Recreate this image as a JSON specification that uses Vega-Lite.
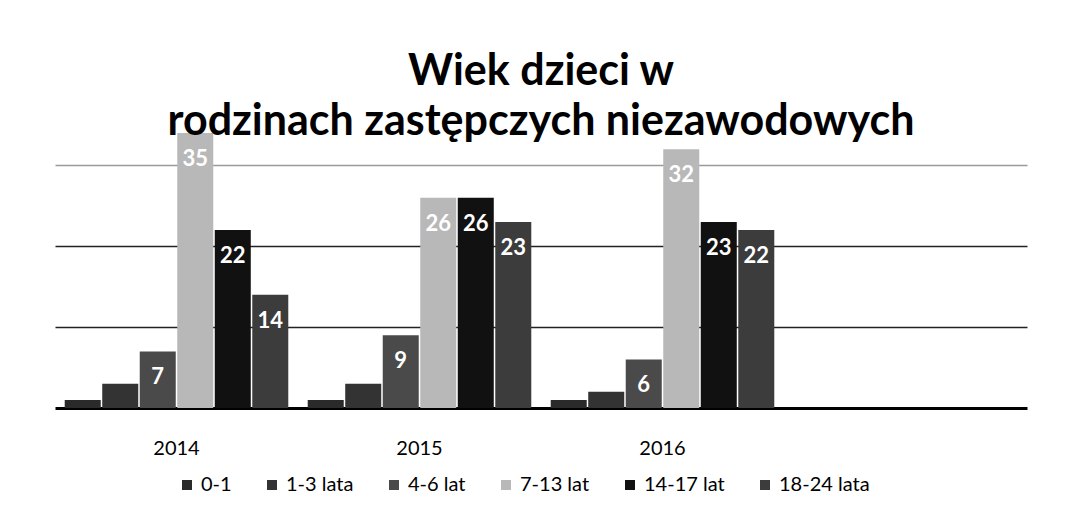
{
  "$schema": "https://vega.github.io/schema/vega-lite/v6.json",
  "width": 972,
  "height": 275,
  "autosize": "none",
  "padding": {"left": 55, "top": 133, "right": 39, "bottom": 118},
  "background": "white",
  "config": {"view": {"stroke": null}},
  "title": {
    "text": ["Wiek dzieci w", "rodzinach zastępczych  niezawodowych"],
    "font": "Lato",
    "fontSize": 43,
    "fontWeight": "bold",
    "color": "black",
    "anchor": "middle",
    "lineHeight": 50,
    "offset": -11
  },
  "data": {
    "values": [
      {"year": "2014", "group": "0-1", "value": 1},
      {"year": "2014", "group": "1-3 lata", "value": 3},
      {"year": "2014", "group": "4-6 lat", "value": 7},
      {"year": "2014", "group": "7-13 lat", "value": 35},
      {"year": "2014", "group": "14-17 lat", "value": 22},
      {"year": "2014", "group": "18-24 lata", "value": 14},
      {"year": "2015", "group": "0-1", "value": 1},
      {"year": "2015", "group": "1-3 lata", "value": 3},
      {"year": "2015", "group": "4-6 lat", "value": 9},
      {"year": "2015", "group": "7-13 lat", "value": 26},
      {"year": "2015", "group": "14-17 lat", "value": 26},
      {"year": "2015", "group": "18-24 lata", "value": 23},
      {"year": "2016", "group": "0-1", "value": 1},
      {"year": "2016", "group": "1-3 lata", "value": 2},
      {"year": "2016", "group": "4-6 lat", "value": 6},
      {"year": "2016", "group": "7-13 lat", "value": 32},
      {"year": "2016", "group": "14-17 lat", "value": 23},
      {"year": "2016", "group": "18-24 lata", "value": 22}
    ]
  },
  "encoding": {
    "x": {
      "field": "year",
      "type": "nominal",
      "scale": {"domain": ["2014", "2015", "2016", " "], "paddingInner": 0.08, "paddingOuter": 0.04},
      "axis": {
        "title": null,
        "labelAngle": 0,
        "labelFont": "Lato",
        "labelFontSize": 20,
        "labelColor": "black",
        "labelPadding": 30,
        "ticks": false,
        "domainColor": "black",
        "domainWidth": 3
      }
    },
    "xOffset": {
      "field": "group",
      "type": "nominal",
      "sort": ["0-1", "1-3 lata", "4-6 lat", "7-13 lat", "14-17 lat", "18-24 lata"],
      "scale": {"paddingInner": 0.04}
    },
    "y": {
      "field": "value",
      "type": "quantitative",
      "scale": {"domain": [0, 34], "clamp": true},
      "axis": {
        "title": null,
        "labels": false,
        "ticks": false,
        "domain": false,
        "grid": true,
        "values": [10, 20, 30],
        "gridColor": {"condition": {"test": "datum.value === 30", "value": "#9a9a9a"}, "value": "#222222"},
        "gridWidth": 1.5
      }
    }
  },
  "layer": [
    {
      "mark": {"type": "bar"},
      "encoding": {
        "color": {
          "field": "group",
          "type": "nominal",
          "scale": {
            "domain": ["0-1", "1-3 lata", "4-6 lat", "7-13 lat", "14-17 lat", "18-24 lata"],
            "range": ["#2a2a2a", "#333333", "#4a4a4a", "#b8b8b8", "#111111", "#3c3c3c"]
          },
          "legend": {
            "orient": "none",
            "legendX": 122,
            "legendY": 342,
            "direction": "horizontal",
            "title": null,
            "labelFont": "Lato",
            "labelFontSize": 20,
            "labelColor": "black",
            "symbolType": "square",
            "symbolSize": 100,
            "columnPadding": 30
          }
        }
      }
    },
    {
      "transform": [{"filter": "datum.value >= 5"}],
      "mark": {"type": "text", "baseline": "top", "dy": 16, "color": "white", "font": "Lato", "fontSize": 22, "fontWeight": "bold"},
      "encoding": {
        "text": {"field": "value", "type": "quantitative"}
      }
    }
  ]
}
